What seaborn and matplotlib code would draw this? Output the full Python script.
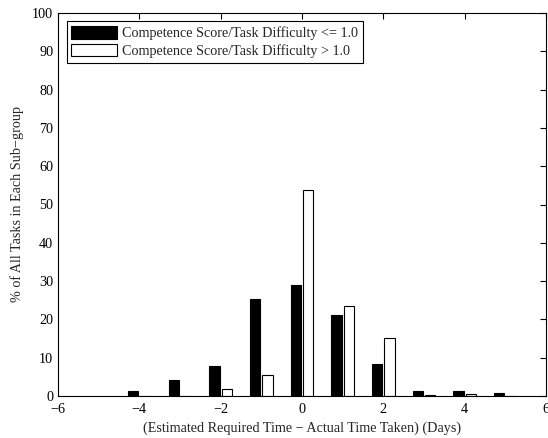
import numpy as np
import pandas as pd
import matplotlib
matplotlib.use("Agg")
import matplotlib.pyplot as plt
import seaborn as sns
from matplotlib.patches import Patch

# Difference between estimated and actual time (days)
days = [-4, -3, -2, -1, 0, 1, 2, 3, 4, 5]
# % of tasks in each sub-group
low_ratio = [1.3, 4.3, 7.8, 25.3, 29.0, 21.2, 8.3, 1.4, 1.4, 0.9]
high_ratio = [0.0, 0.0, 1.7, 5.5, 53.7, 23.5, 15.1, 0.3, 0.4, 0.1]
labels = ["Competence Score/Task Difficulty <= 1.0",
          "Competence Score/Task Difficulty > 1.0"]

df = pd.DataFrame({
    "day": days * 2,
    "pct": low_ratio + high_ratio,
    "group": [labels[0]] * len(days) + [labels[1]] * len(days),
})

sns.set_style("white")
plt.rcParams["font.family"] = ["Liberation Serif", "DejaVu Serif"]
plt.rcParams["font.size"] = 10

fig = plt.figure(figsize=(5.48, 4.38), dpi=100)
ax = fig.add_axes([58 / 548, 1 - 396 / 438, 488 / 548, 383 / 438])

sns.barplot(data=df, x="day", y="pct", hue="group", hue_order=labels,
            palette=["black", "white"], native_scale=True, width=0.6, gap=0.15,
            edgecolor="black", linewidth=0.8, legend=False, ax=ax)

ax.set_xlim(-6, 6)
ax.set_ylim(0, 100)
ax.set_xticks(np.arange(-6, 7, 2))
ax.set_xticklabels(["\u22126", "\u22124", "\u22122", "0", "2", "4", "6"])
ax.set_yticks(np.arange(0, 101, 10))
ax.tick_params(direction="in", length=4, width=0.8, top=True, right=True,
               labelsize=10.2, colors="black")
ax.tick_params(axis="x", pad=5)
for s in ax.spines.values():
    s.set_color("black")
    s.set_linewidth(0.8)

ax.set_xlabel("(Estimated Required Time \u2212 Actual Time Taken) (Days)", fontsize=10.2)
ax.set_ylabel("% of All Tasks in Each Sub\u2212group", fontsize=10.2, labelpad=6)

handles = [Patch(facecolor="black", edgecolor="black", linewidth=0.8),
           Patch(facecolor="white", edgecolor="black", linewidth=0.8)]
leg = ax.legend(handles, labels, loc="upper left", fontsize=10.2, frameon=True,
                fancybox=False, edgecolor="black", framealpha=1,
                handlelength=3.2, handleheight=0.95, handletextpad=0.35,
                borderpad=0.35, labelspacing=0.25, borderaxespad=0.6)
leg.get_frame().set_linewidth(0.8)

fig.savefig("out.png", dpi=100)
